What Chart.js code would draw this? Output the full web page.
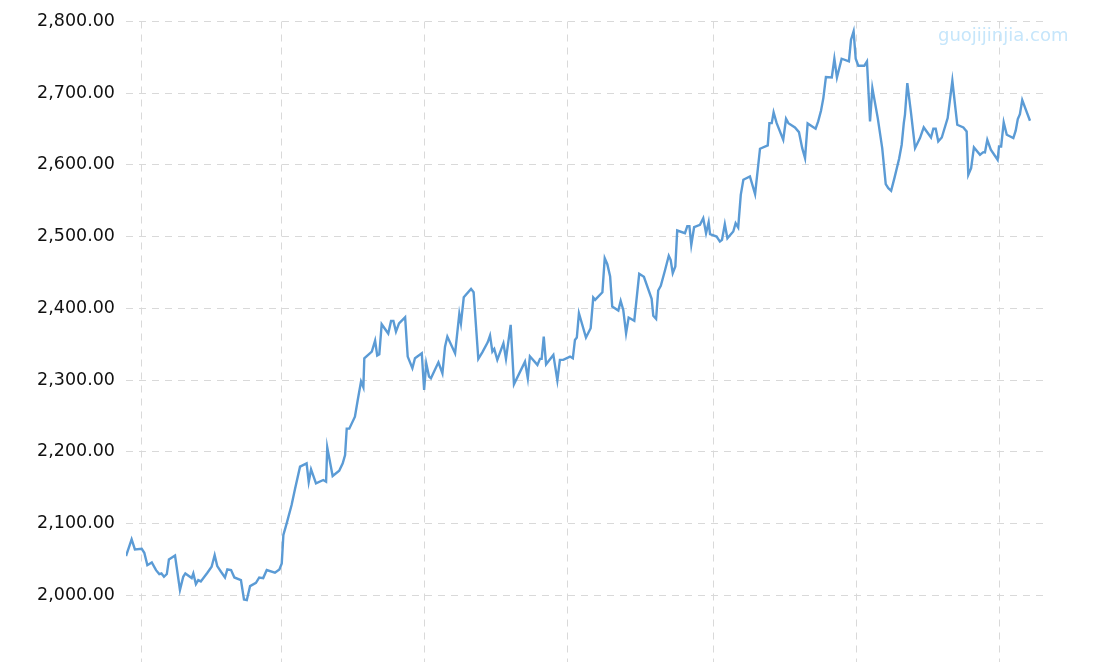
<!DOCTYPE html>
<html><head><meta charset="utf-8">
<script src="https://cdn.jsdelivr.net/npm/chart.js@4.4.0/dist/chart.umd.min.js"></script>
<style>
html,body{margin:0;padding:0;background:#fff;overflow:hidden;}
#wrap{position:relative;width:1094px;height:700px;}
#wm{position:absolute;left:938px;top:24px;font:18px "DejaVu Sans";line-height:22px;color:#c6e6fb;white-space:nowrap;}
</style></head><body>
<div id="wrap"><canvas id="c" width="1094" height="700"></canvas><div id="wm">guojijinjia.com</div></div>
<script>
// Day offsets from 2024-01-01 (calendar days) of each traced vertex
const days = [
-6.4,-4.0,-2.6,0.3,1.4,2.7,4.6,6.4,7.8,8.7,9.8,11.0,11.9,14.5,16.6,18.0,18.9,21.6,22.3,23.4,24.4,25.5,28.3,30.1,31.4,32.5,34.1,35.8,36.8,38.4,39.8,42.6,43.9,45.1,46.5,49.0,50.4,52.1,53.6,57.1,59.0,60.0,60.7,62.1,64.2,65.7,67.8,70.6,71.5,72.5,74.6,77.7,78.9,79.4,81.7,84.5,86.0,87.0,87.7,88.8,91.2,
92.4,93.8,94.8,95.2,98.4,99.8,100.7,101.6,102.6,105.4,106.6,107.6,108.7,110.0,112.6,113.7,115.7,116.8,119.7,120.7,121.6,122.8,123.6,126.8,128.5,129.6,130.6,133.9,135.7,136.4,137.6,140.7,141.8,143.8,145.5,147.8,148.8,149.8,150.6,151.9,154.5,155.6,157.6,159.0,163.7,164.9,165.8,169.0,170.1,170.8,171.7,172.7,175.8,177.5,178.6,180.0,182.9,184.1,185.0,185.8,186.7,
189.7,191.7,192.8,193.6,196.7,197.7,198.8,200.0,200.9,203.5,204.5,205.6,206.8,207.9,210.3,212.4,214.4,217.7,218.4,219.6,220.5,221.6,223.4,225.0,225.8,226.7,227.8,228.6,231.9,232.9,233.8,234.6,235.8,238.3,239.7,240.9,242.0,242.6,245.4,246.8,247.7,248.9,250.0,252.5,253.5,254.6,255.7,256.8,259.6,261.8,263.9,267.2,267.9,268.9,269.7,271.0,273.8,275.0,276.0,
278.8,280.5,281.9,283.1,284.2,287.6,288.7,289.9,290.9,292.0,294.5,295.6,296.7,298.7,301.8,302.7,303.8,304.7,305.8,308.4,309.5,310.8,311.8,314.1,316.0,317.5,318.6,319.8,321.2,323.2,324.3,325.2,325.7,326.7,328.2,330.0,332.1,333.7,336.8,337.8,338.8,339.9,341.4,343.9,345.9,348.0,350.6,352.0,352.7,353.9,355.1,357.7,359.1,359.8,360.8,362.3,365.2,365.8,366.7,367.8,369.1,371.9,372.9,373.8,374.7,375.7,379.0
];
// Gold price (USD/oz)
const prices = [
2054.7,2077.9,2063.9,2064.9,2059.3,2042.0,2045.8,2035.0,2029.6,2030.4,2025.8,2029.6,2050.0,2055.5,2007.3,2025.8,2030.4,2024.0,2030.4,2015.6,2021.2,2019.3,2031.4,2039.8,2056.0,2040.7,2032.8,2024.8,2036.0,2035.2,2024.8,2021.2,1994.1,1993.3,2012.8,2017.4,2024.8,2024.0,2035.2,2031.4,2036.0,2044.4,2084.0,2100.2,2125.9,2149.0,2179.3,2183.9,2158.0,2175.5,2156.0,2160.7,2158.4,2206.2,2166.3,2173.7,2183.9,2195.6,2232.3,2232.3,2249.0,
2272.3,2297.9,2290.0,2330.4,2339.8,2355.1,2334.2,2336.0,2377.9,2364.9,2382.6,2382.6,2367.6,2379.2,2387.6,2332.8,2316.5,2330.4,2337.4,2286.3,2323.4,2304.9,2302.6,2324.8,2309.5,2346.7,2360.7,2337.4,2392.4,2379.2,2415.5,2427.2,2422.5,2329.6,2338.8,2352.7,2362.1,2339.8,2343.5,2328.2,2351.3,2329.6,2377.0,2294.1,2325.8,2302.6,2333.2,2321.2,2329.6,2329.6,2360.7,2322.0,2335.1,2299.7,2328.2,2328.2,2332.8,2330.4,2356.1,2359.3,2393.2,
2359.3,2372.3,2415.1,2411.9,2422.5,2469.9,2461.6,2444.4,2402.5,2397.0,2410.5,2397.9,2365.3,2387.2,2382.6,2448.2,2444.0,2413.3,2389.6,2385.4,2424.9,2431.4,2453.2,2473.3,2467.7,2449.0,2458.4,2508.6,2504.8,2514.6,2514.6,2488.6,2513.2,2516.5,2525.8,2504.8,2520.2,2503.4,2500.2,2493.2,2495.6,2517.4,2497.8,2507.2,2518.7,2512.8,2558.4,2579.3,2583.9,2559.2,2622.6,2627.2,2658.3,2658.3,2673.2,2658.3,2635.1,2664.4,2658.3,
2652.3,2645.8,2623.4,2609.5,2657.9,2650.5,2660.7,2675.6,2693.2,2722.5,2722.0,2748.1,2722.0,2748.1,2744.3,2774.6,2786.2,2748.1,2738.4,2738.4,2744.3,2660.7,2707.1,2665.3,2623.4,2573.2,2567.6,2564.0,2581.6,2608.6,2628.2,2658.3,2670.0,2714.1,2674.6,2623.4,2637.4,2652.3,2638.3,2650.5,2650.5,2632.8,2638.3,2665.3,2717.4,2656.0,2652.3,2646.7,2586.3,2595.5,2624.4,2614.2,2617.8,2617.4,2635.1,2621.2,2607.2,2625.8,2625.8,2659.3,2642.1,2637.4,2647.7,2663.9,2670.9,2690.4,2661.6
];
// X tick positions (day offsets of month starts) and their labels
const tickDays = [0, 60, 121, 182, 244, 305, 366];
const tickLabels = ['2024-01','2024-03','2024-05','2024-07','2024-09','2024-11','2025-01'];
// Y axis range / tick step
const yMin = 1900, yMax = 2800, yStep = 100;
const xMin = -6.4, xMax = 385.4;

const points = days.map((d, i) => ({ x: d, y: prices[i] }));

new Chart(document.getElementById('c').getContext('2d'), {
  type: 'line',
  data: { datasets: [{
    data: points,
    borderColor: '#5b9bd5',
    borderWidth: 2.4,
    pointRadius: 0,
    tension: 0,
    fill: false
  }]},
  options: {
    responsive: false,
    animation: false,
    layout: { padding: { top: 20, right: 49, bottom: 33, left: 0 } },
    plugins: { legend: { display: false }, tooltip: { enabled: false } },
    scales: {
      x: {
        type: 'linear',
        min: xMin, max: xMax,
        afterBuildTicks: (s) => { s.ticks = tickDays.map(v => ({ value: v })); },
        ticks: {
          display: false,
          callback: (v) => { const k = tickDays.indexOf(v); return k >= 0 ? tickLabels[k] : ''; }
        },
        grid: { color: '#d9d9d9', lineWidth: 1, drawTicks: false },
        border: { display: false, dash: [7, 6] }
      },
      y: {
        min: yMin, max: yMax,
        afterFit: (s) => { s.width = 126; },
        ticks: {
          stepSize: yStep,
          padding: 11,
          color: '#111',
          font: { family: 'DejaVu Sans', size: 17.5 },
          callback: (v) => v < 2000 ? '' : v.toLocaleString('en-US', { minimumFractionDigits: 2, maximumFractionDigits: 2 })
        },
        grid: { color: '#d9d9d9', lineWidth: 1, drawTicks: false },
        border: { display: false, dash: [7, 6] }
      }
    }
  }
});
</script>
</body></html>
